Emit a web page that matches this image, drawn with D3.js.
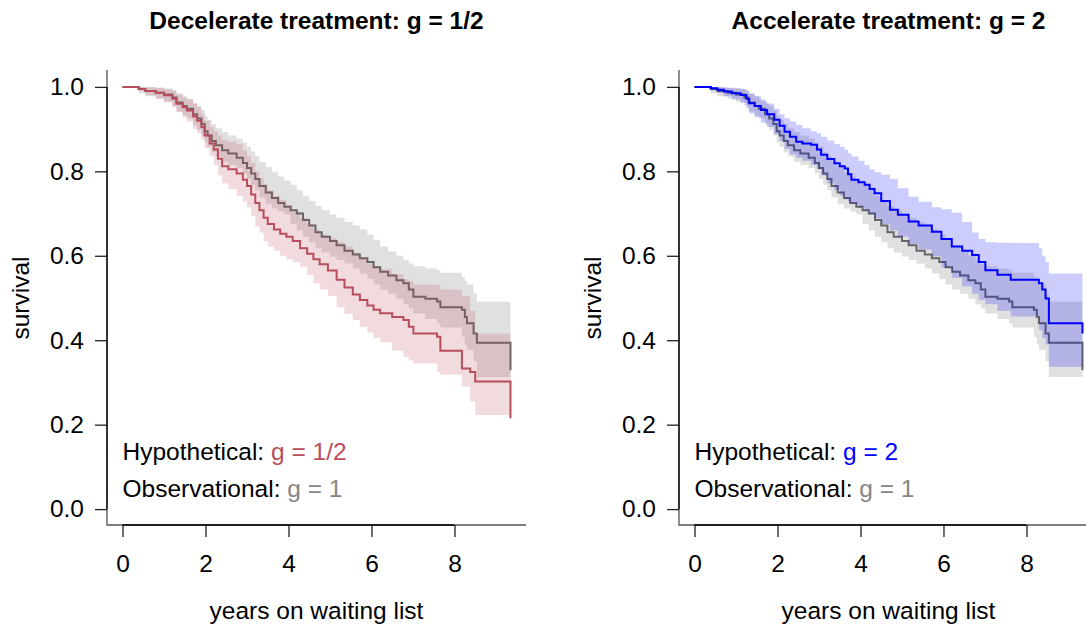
<!DOCTYPE html>
<html>
<head>
<meta charset="utf-8">
<script src="https://cdn.jsdelivr.net/npm/d3@7"></script>
<style>
  html, body { margin: 0; padding: 0; background: #fff; }
  svg { display: block; font-family: "Liberation Sans", Arial, Helvetica, sans-serif; }
</style>
</head>
<body>
<svg id="chart" width="1086" height="627"></svg>
<script>
// ---------------- data ----------------
// Observational (g = 1) Kaplan-Meier curve and confidence band
const obsTime  = [0,0.39,0.55,0.8,1.0,1.2,1.3,1.45,1.55,1.7,1.8,1.9,1.98,2.05,2.15,2.25,2.4,2.55,2.75,2.9,3.0,3.1,3.2,3.3,3.45,3.6,3.75,3.9,4.05,4.2,4.35,4.5,4.65,4.8,5.0,5.16,5.35,5.55,5.72,5.9,6.05,6.21,6.4,6.6,6.77,6.9,7.01,7.3,7.58,7.66,8.18,8.25,8.3,8.46,8.54,9.35];
const obsSurv  = [1,0.995,0.99,0.986,0.982,0.975,0.963,0.955,0.948,0.935,0.925,0.912,0.895,0.885,0.872,0.862,0.85,0.842,0.832,0.82,0.808,0.795,0.782,0.765,0.75,0.737,0.725,0.716,0.708,0.7,0.685,0.672,0.656,0.645,0.635,0.625,0.612,0.603,0.594,0.585,0.573,0.562,0.553,0.542,0.535,0.52,0.503,0.498,0.492,0.478,0.472,0.455,0.44,0.416,0.394,0.329];
const obsLower = [1,0.985,0.978,0.972,0.965,0.955,0.942,0.932,0.925,0.91,0.898,0.885,0.868,0.858,0.845,0.835,0.822,0.815,0.808,0.795,0.782,0.768,0.755,0.738,0.722,0.712,0.705,0.698,0.675,0.66,0.645,0.632,0.618,0.608,0.598,0.59,0.582,0.57,0.558,0.545,0.532,0.52,0.51,0.498,0.485,0.475,0.463,0.45,0.44,0.43,0.408,0.39,0.377,0.35,0.313,0.313];
const obsUpper = [1,1,0.999,0.998,0.996,0.993,0.985,0.978,0.972,0.962,0.955,0.945,0.93,0.922,0.912,0.902,0.893,0.885,0.877,0.868,0.858,0.847,0.836,0.822,0.81,0.798,0.788,0.778,0.768,0.755,0.742,0.73,0.718,0.708,0.698,0.69,0.68,0.672,0.662,0.65,0.638,0.622,0.61,0.6,0.59,0.582,0.575,0.57,0.566,0.56,0.55,0.54,0.532,0.51,0.491,0.491];

// Hypothetical decelerate (g = 1/2)
const decTime  = [0,0.39,0.55,0.8,1.0,1.2,1.3,1.45,1.55,1.7,1.8,1.9,1.98,2.1,2.2,2.3,2.4,2.55,2.75,2.9,3.0,3.1,3.2,3.3,3.4,3.5,3.65,3.8,3.95,4.1,4.28,4.45,4.6,4.75,4.95,5.16,5.35,5.55,5.72,5.9,6.05,6.21,6.5,6.77,6.9,7.01,7.58,7.66,8.18,8.38,8.5,9.35];
const decSurv  = [1,0.995,0.99,0.986,0.98,0.972,0.96,0.952,0.944,0.93,0.92,0.905,0.885,0.866,0.852,0.83,0.812,0.805,0.795,0.78,0.765,0.745,0.725,0.708,0.69,0.675,0.662,0.652,0.645,0.635,0.618,0.605,0.592,0.58,0.565,0.543,0.525,0.508,0.495,0.482,0.472,0.464,0.455,0.448,0.432,0.416,0.408,0.375,0.333,0.325,0.302,0.215];
const decLower = [1,0.99,0.98,0.972,0.965,0.952,0.94,0.928,0.918,0.9,0.89,0.875,0.855,0.835,0.815,0.79,0.772,0.758,0.742,0.728,0.715,0.695,0.67,0.655,0.635,0.622,0.612,0.6,0.592,0.585,0.574,0.555,0.535,0.52,0.505,0.478,0.462,0.448,0.432,0.418,0.405,0.395,0.375,0.36,0.352,0.345,0.325,0.318,0.29,0.255,0.223,0.223];
const decUpper = [1,1,0.999,0.998,0.995,0.99,0.982,0.975,0.97,0.96,0.952,0.935,0.92,0.905,0.895,0.885,0.875,0.87,0.865,0.85,0.835,0.82,0.8,0.785,0.77,0.755,0.742,0.732,0.72,0.705,0.69,0.675,0.662,0.65,0.642,0.632,0.622,0.608,0.595,0.582,0.575,0.568,0.556,0.545,0.54,0.532,0.53,0.52,0.505,0.47,0.416,0.416];

// Hypothetical accelerate (g = 2)
const accTime  = [0,0.39,0.55,0.71,0.9,1.11,1.25,1.32,1.45,1.6,1.75,1.92,2.05,2.17,2.3,2.45,2.6,2.81,2.95,3.05,3.2,3.37,3.5,3.62,3.7,3.78,3.95,4.1,4.22,4.34,4.5,4.71,4.9,5.16,5.4,5.72,5.95,6.2,6.45,6.69,6.85,7.01,7.3,7.62,8.3,8.38,8.46,8.54,9.35];
const accSurv  = [1,0.997,0.993,0.989,0.985,0.981,0.972,0.961,0.955,0.945,0.935,0.922,0.908,0.894,0.882,0.87,0.866,0.863,0.852,0.839,0.829,0.819,0.812,0.807,0.793,0.78,0.774,0.768,0.758,0.748,0.73,0.709,0.697,0.681,0.672,0.657,0.64,0.622,0.612,0.602,0.585,0.566,0.555,0.543,0.535,0.52,0.499,0.44,0.416];
const accLower = [1,0.992,0.985,0.978,0.97,0.962,0.95,0.937,0.928,0.915,0.905,0.888,0.872,0.853,0.84,0.832,0.825,0.815,0.805,0.79,0.772,0.755,0.742,0.733,0.728,0.722,0.715,0.708,0.698,0.688,0.675,0.66,0.645,0.628,0.615,0.598,0.572,0.548,0.528,0.51,0.496,0.485,0.47,0.456,0.424,0.405,0.39,0.337,0.337];
const accUpper = [1,1,0.999,0.998,0.997,0.995,0.99,0.984,0.978,0.968,0.96,0.948,0.935,0.926,0.918,0.91,0.902,0.895,0.89,0.882,0.873,0.865,0.858,0.851,0.843,0.835,0.825,0.815,0.805,0.798,0.792,0.782,0.76,0.74,0.728,0.715,0.71,0.702,0.68,0.655,0.64,0.632,0.631,0.63,0.618,0.6,0.585,0.558,0.558];

const xTicks = [0, 2, 4, 6, 8];
const yTicks = [0, 0.2, 0.4, 0.6, 0.8, 1.0];
const xMax = 9.35;

const panels = [
  { left: 107, title: "Decelerate treatment: g = 1/2",
    hypoLabel: "g = 1/2", hypoColor: "#b84d5c", bandColor: "rgba(184,77,92,0.2)",
    time: decTime, surv: decSurv, lower: decLower, upper: decUpper },
  { left: 679, title: "Accelerate treatment: g = 2",
    hypoLabel: "g = 2", hypoColor: "#0000ff", bandColor: "rgba(0,0,255,0.2)",
    time: accTime, surv: accSurv, lower: accLower, upper: accUpper }
];

// ---------------- drawing ----------------
const svg = d3.select("#chart");
const plotW = 419, plotTop = 70, plotBottom = 526;
const pad = 0.04 * xMax;
const fs = "24.5px";

function toRows(t, s, lo, hi) {
  return t.map((d, i) => ({ t: d, s: s[i], lo: lo[i], hi: hi[i] }));
}
const obsRows = toRows(obsTime, obsSurv, obsLower, obsUpper);

panels.forEach(p => {
  const x = d3.scaleLinear().domain([-pad, xMax + pad]).range([p.left, p.left + plotW]);
  const y = d3.scaleLinear().domain([-0.04, 1.04]).range([plotBottom, plotTop]);
  const g = svg.append("g");

  const area = d3.area().curve(d3.curveStepAfter)
    .x(d => x(d.t)).y0(d => y(d.lo)).y1(d => y(d.hi));
  const line = d3.line().curve(d3.curveStepAfter)
    .x(d => x(d.t)).y(d => y(d.s));

  const rows = toRows(p.time, p.surv, p.lower, p.upper);

  g.append("path").datum(obsRows).attr("d", area).attr("fill", "#e0e0e0");
  g.append("path").datum(obsRows).attr("d", line)
    .attr("fill", "none").attr("stroke", "#666666").attr("stroke-width", 2);
  g.append("path").datum(rows).attr("d", area).attr("fill", p.bandColor);
  g.append("path").datum(rows).attr("d", line)
    .attr("fill", "none").attr("stroke", p.hypoColor).attr("stroke-width", 2);

  // L-shaped box
  g.append("path")
    .attr("d", `M${p.left},${plotTop}V${plotBottom - 1}H${p.left + plotW}`)
    .attr("fill", "none").attr("stroke", "#555").attr("stroke-width", 1.3);

  // axes
  const xAxis = d3.axisBottom(x).tickValues(xTicks).tickSize(12).tickPadding(18)
    .tickFormat(d3.format("d"));
  const gx = g.append("g").attr("transform", `translate(0,${plotBottom - 1})`).call(xAxis);
  const yAxis = d3.axisLeft(y).tickValues(yTicks).tickSize(12).tickPadding(11)
    .tickFormat(d3.format(".1f"));
  const gy = g.append("g").attr("transform", `translate(${p.left},0)`).call(yAxis);
  [gx, gy].forEach(a => {
    a.select(".domain").remove();
    a.selectAll(".tick line").attr("stroke", "#222").attr("stroke-width", 1.3);
    a.selectAll(".tick text").attr("fill", "#000").style("font-size", fs)
      .style("font-family", "Liberation Sans, Arial, sans-serif");
  });
  gx.selectAll(".tick text").attr("dy", "0.71em");
  // axis lines over tick range
  g.append("line").attr("x1", x(0)).attr("x2", x(8)).attr("y1", plotBottom - 1).attr("y2", plotBottom - 1)
    .attr("stroke", "#000").attr("stroke-width", 1.3);
  g.append("line").attr("x1", p.left).attr("x2", p.left).attr("y1", y(0)).attr("y2", y(1))
    .attr("stroke", "#000").attr("stroke-width", 1.3);

  // titles
  const cx = p.left + plotW / 2;
  g.append("text").attr("x", cx).attr("y", 20).attr("text-anchor", "middle")
    .attr("dominant-baseline", "central").style("font-size", fs).style("font-weight", "bold")
    .text(p.title);
  g.append("text").attr("x", cx).attr("y", 610).attr("text-anchor", "middle")
    .attr("dominant-baseline", "central").style("font-size", fs)
    .text("years on waiting list");
  g.append("text").attr("transform", `translate(${p.left - 87},${(plotTop + plotBottom) / 2}) rotate(-90)`)
    .attr("text-anchor", "middle").attr("dominant-baseline", "central").style("font-size", fs)
    .text("survival");

  // legend
  const l1 = g.append("text").attr("x", x(0)).attr("y", 451).attr("dominant-baseline", "central")
    .style("font-size", fs);
  l1.append("tspan").attr("fill", "#000").text("Hypothetical: ");
  l1.append("tspan").attr("fill", p.hypoColor).text(p.hypoLabel);
  const l2 = g.append("text").attr("x", x(0)).attr("y", 488).attr("dominant-baseline", "central")
    .style("font-size", fs);
  l2.append("tspan").attr("fill", "#000").text("Observational: ");
  l2.append("tspan").attr("fill", "#858585").text("g = 1");
});
</script>
</body>
</html>
